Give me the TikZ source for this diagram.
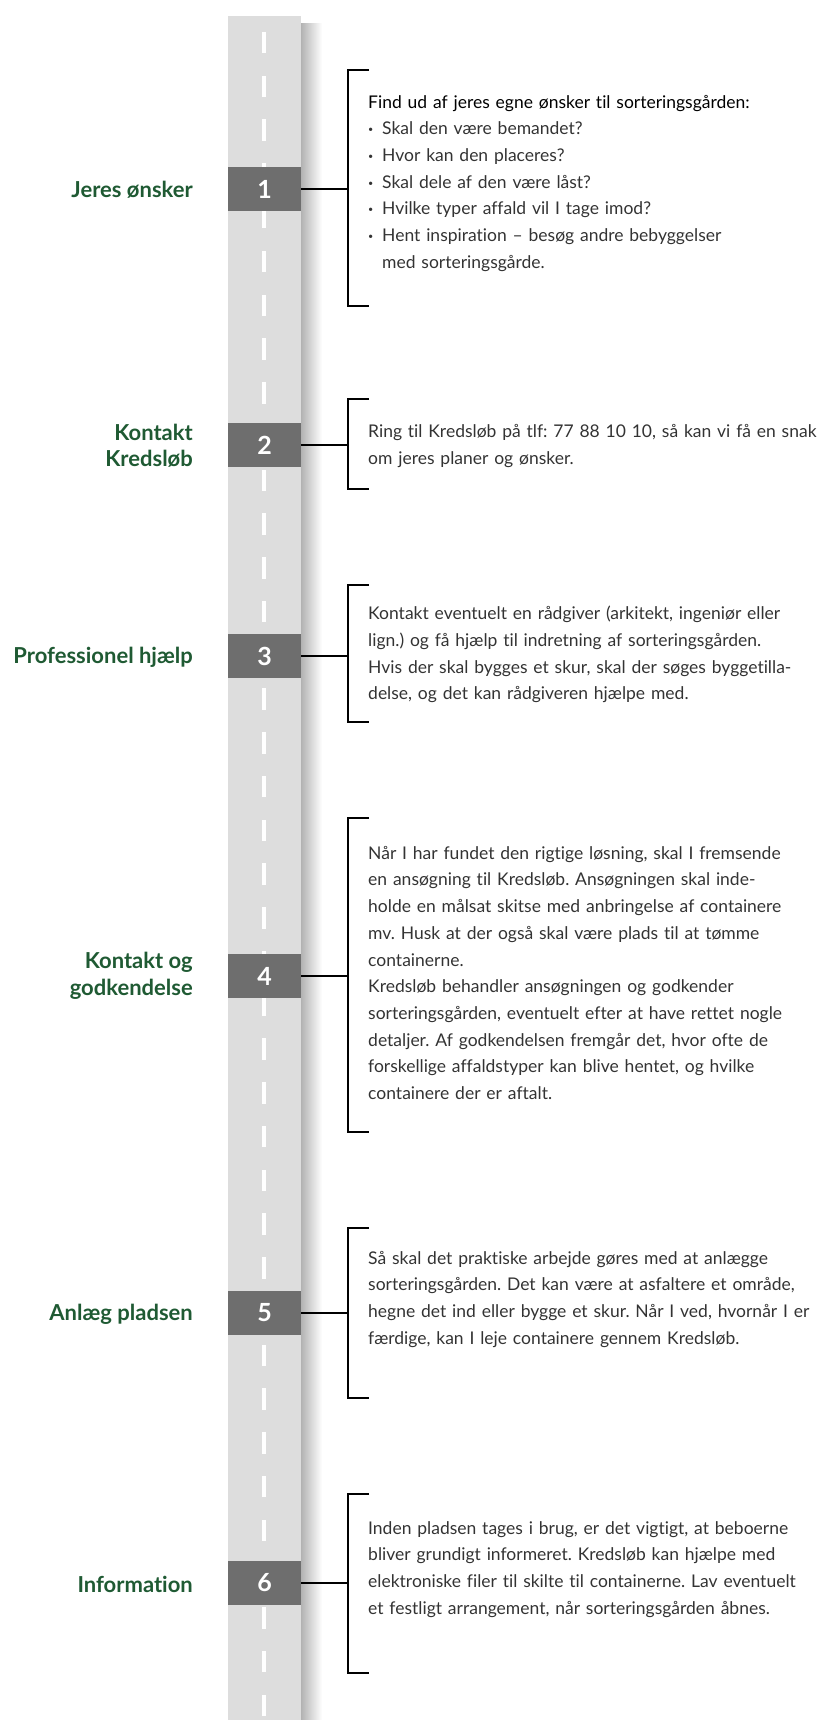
\documentclass[tikz,border=0pt]{standalone}
\usepackage{fontspec}
\setmainfont{Lato}[Ligatures=NoCommon]
\frenchspacing
\definecolor{roadgray}{HTML}{DDDDDD}
\definecolor{boxgray}{HTML}{6E6E6E}
\definecolor{labelgreen}{HTML}{1F5A33}
\definecolor{bodytext}{HTML}{333333}
\newcommand{\blt}{\makebox[14pt][l]{\raisebox{2pt}{\fontsize{9}{9}\selectfont •}}}
\newcommand{\fst}{\rule{0pt}{16pt}}
\tikzset{
  numbox/.style={fill=boxgray, minimum width=73pt, minimum height=44pt, inner sep=0pt,
    text=white, font=\fontsize{25}{25}\selectfont\bfseries},
  steplabel/.style={anchor=east, align=right, inner sep=0pt, text=labelgreen,
    font=\fontsize{22}{26.5}\selectfont\bfseries},
  bodyblock/.style={anchor=north west, inner sep=0pt, text width=600pt, align=left,
    text=bodytext, font=\fontsize{17.5}{26.7}\selectfont},
  bracketline/.style={line width=1.4pt, black},
  connector/.style={line width=1.4pt, black},
}
\begin{document}
\begin{tikzpicture}[x=1pt,y=-1pt]
\useasboundingbox (0,0) rectangle (822,1720);
% road
\shade[left color=black!30, right color=white] (301,24) rectangle (322,1720);
\fill[roadgray] (228,16) rectangle (301,1720);
\foreach \k in {0,...,38} {
  \pgfmathsetmacro\ya{32+43.75*\k}
  \fill[white] (262,\ya) rectangle (266,\ya+21.5);
}
% boxes and brackets
\foreach \i/\c/\t/\b in {1/189/70/306, 2/445/399/489, 3/656/585/722, 4/976/818/1132, 5/1313/1228/1398, 6/1583/1494/1673} {
  \node[numbox] (n\i) at (264.5,\c) {\i};
  \coordinate (bt\i) at (369,\t);
  \coordinate (btc\i) at (348,\t);
  \coordinate (bm\i) at (348,\c);
  \coordinate (bbc\i) at (348,\b);
  \coordinate (bb\i) at (369,\b);
  \draw[bracketline] (bt\i) -- (btc\i) -- (bbc\i) -- (bb\i);
  \draw[connector] (n\i.east) -- (bm\i);
}
% labels
\node[steplabel] (l1) at (193,190) {Jeres ønsker};
\node[steplabel] (l2) at (193,445.5) {Kontakt\\Kredsløb};
\node[steplabel] (l3) at (193,657) {Professionel hjælp};
\node[steplabel] (l4) at (193,976) {Kontakt og\\godkendelse};
\node[steplabel] (l5) at (193,1314) {Anlæg pladsen};
\node[steplabel] (l6) at (193,1584) {Information};
% texts
\node[bodyblock] (t1) at (368,92) {\fst{\color{black}Find ud af jeres egne ønsker til sorteringsgården:}\\
\blt Skal den være bemandet?\\
\blt Hvor kan den placeres?\\
\blt Skal dele af den være låst?\\
\blt Hvilke typer affald vil I tage imod?\\
\blt Hent inspiration – besøg andre bebyggelser\\
\hspace*{14pt}med sorteringsgårde.};
\node[bodyblock] (t2) at (368,421.5) {\fst Ring til Kredsløb på tlf: 77 88 10 10, så kan vi få en snak\\
om jeres planer og ønsker.};
\node[bodyblock] (t3) at (368,603.5) {\fst Kontakt eventuelt en rådgiver (arkitekt, ingeniør eller\\
lign.) og få hjælp til indretning af sorteringsgården.\\
Hvis der skal bygges et skur, skal der søges byggetilla-\\
delse, og det kan rådgiveren hjælpe med.};
\node[bodyblock] (t4) at (368,843) {\fst Når I har fundet den rigtige løsning, skal I fremsende\\
en ansøgning til Kredsløb. Ansøgningen skal inde-\\
holde en målsat skitse med anbringelse af containere\\
mv. Husk at der også skal være plads til at tømme\\
containerne.\\
Kredsløb behandler ansøgningen og godkender\\
sorteringsgården, eventuelt efter at have rettet nogle\\
detaljer. Af godkendelsen fremgår det, hvor ofte de\\
forskellige affaldstyper kan blive hentet, og hvilke\\
containere der er aftalt.};
\node[bodyblock] (t5) at (368,1248) {\fst Så skal det praktiske arbejde gøres med at anlægge\\
sorteringsgården. Det kan være at asfaltere et område,\\
hegne det ind eller bygge et skur. Når I ved, hvornår I er\\
færdige, kan I leje containere gennem Kredsløb.};
\node[bodyblock] (t6) at (368,1518) {\fst Inden pladsen tages i brug, er det vigtigt, at beboerne\\
bliver grundigt informeret. Kredsløb kan hjælpe med\\
elektroniske filer til skilte til containerne. Lav eventuelt\\
et festligt arrangement, når sorteringsgården åbnes.};
\end{tikzpicture}
\end{document}
